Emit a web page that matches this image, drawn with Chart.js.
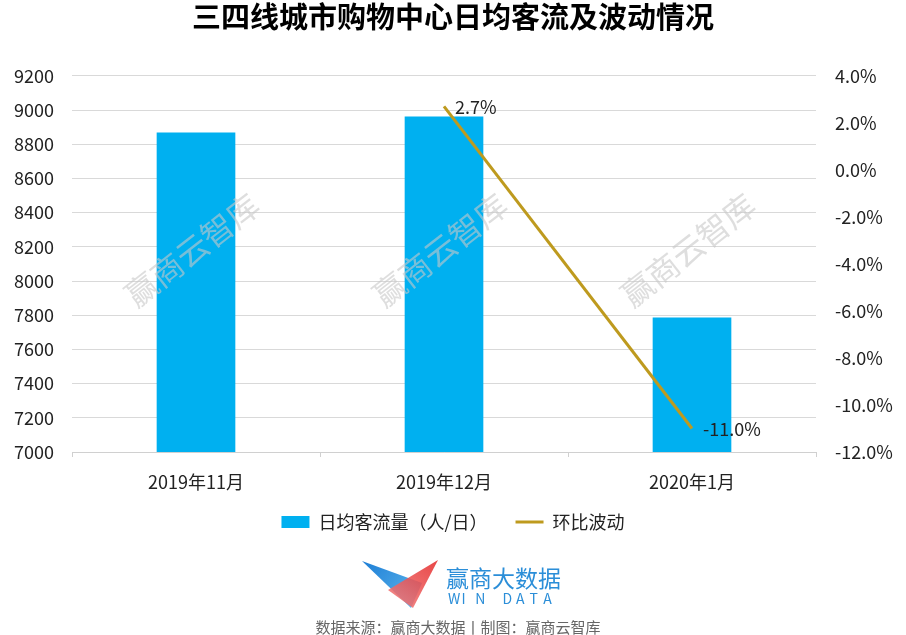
<!DOCTYPE html>
<html>
<head>
<meta charset="utf-8">
<script src="https://cdn.jsdelivr.net/npm/chart.js@4/dist/chart.umd.min.js"></script>
<style>
  html, body { margin: 0; padding: 0; background: #fff; }
  #wrap { width: 906px; height: 635px; }
</style>
</head>
<body>
<div id="wrap"><canvas id="myChart" width="906" height="635"></canvas></div>
<script>
const months = ["2019年11月", "2019年12月", "2020年1月"];
const dailyFlow = [8866, 8960, 7784];
const momChange = [null, 2.7, -11.0];
const flowTicks = { min: 7000, max: 9200, step: 200 };
const changeTicks = { min: -12, max: 4, step: 2 };

const FONT = '"Noto Sans CJK SC", "Noto Sans", sans-serif';

// 水印 + 数据标签
const overlay = {
  id: "overlay",
  afterLayout(chart) {
    // x轴标签区域放大一点，避免被裁剪
    const xs = chart.scales.x;
    xs.bottom = xs.top + 50;
  },
  afterDatasetsDraw(chart) {
    const ctx = chart.ctx;
    const xs = chart.scales.x;

    ctx.save();
    ctx.font = "32px " + FONT;
    ctx.fillStyle = "rgba(200,200,200,0.6)";
    ctx.textAlign = "center";
    ctx.textBaseline = "middle";
    months.forEach((m, i) => {
      const cx = xs.getPixelForValue(i) - 4;
      ctx.save();
      ctx.translate(cx, 250);
      ctx.rotate(-38 * Math.PI / 180);
      ctx.fillText("赢商云智库", 0, 0);
      ctx.restore();
    });
    ctx.restore();

    const meta = chart.getDatasetMeta(1);
    ctx.save();
    ctx.font = "18px " + FONT;
    ctx.fillStyle = "#222";
    ctx.textAlign = "left";
    ctx.textBaseline = "middle";
    meta.data.forEach((pt, i) => {
      if (momChange[i] === null) return;
      ctx.fillText(momChange[i].toFixed(1) + "%", pt.x + 11, pt.y + 1);
    });
    ctx.restore();
  },
  afterDraw(chart) {
    const ctx = chart.ctx;
    ctx.save();
    // logo
    let g = ctx.createLinearGradient(363, 562, 415, 606);
    g.addColorStop(0, "#1f7fd6");
    g.addColorStop(1, "#5bb5ec");
    ctx.fillStyle = g;
    ctx.beginPath();
    ctx.moveTo(362, 561); ctx.lineTo(422, 583); ctx.lineTo(411, 608); ctx.closePath();
    ctx.fill();
    g = ctx.createLinearGradient(437, 561, 400, 607);
    g.addColorStop(0, "#e52e2e");
    g.addColorStop(1, "#f07777");
    ctx.fillStyle = g;
    ctx.globalAlpha = 0.88;
    ctx.beginPath();
    ctx.moveTo(438, 560); ctx.lineTo(388, 590); ctx.lineTo(413, 608); ctx.closePath();
    ctx.fill();
    ctx.globalAlpha = 1;

    ctx.fillStyle = "#2b8ed8";
    ctx.textBaseline = "middle";
    ctx.textAlign = "left";
    ctx.font = "23px " + FONT;
    ctx.fillText("赢商大数据", 446, 578);
    ctx.font = "14px " + FONT;
    const letters = "WIN DATA".split("");
    letters.forEach((c, i) => ctx.fillText(c, 448 + i * 13.6, 599));

    ctx.fillStyle = "#666";
    ctx.font = "15px " + FONT;
    ctx.textAlign = "center";
    ctx.fillText("数据来源：赢商大数据丨制图：赢商云智库", 458, 627);
    ctx.restore();
  }
};

new Chart(document.getElementById("myChart").getContext("2d"), {
  data: {
    labels: months,
    datasets: [
      {
        type: "bar",
        label: "日均客流量（人/日）",
        data: dailyFlow,
        yAxisID: "y",
        backgroundColor: "#00B0F0",
        borderWidth: 0,
        barThickness: 78,
        order: 1,
        pointStyle: "rect",
      },
      {
        type: "line",
        label: "环比波动",
        data: momChange,
        yAxisID: "y1",
        borderColor: "#BE9A1E",
        backgroundColor: "#BE9A1E",
        borderWidth: 3,
        pointRadius: 0,
        tension: 0,
        order: 0,
        pointStyle: "line",
      },
    ],
  },
  options: {
    responsive: false,
    animation: false,
    layout: { padding: { top: 0, bottom: 94, left: 0, right: 0 } },
    plugins: {
      tooltip: { enabled: false },
      title: {
        display: true,
        text: "三四线城市购物中心日均客流及波动情况",
        color: "#000",
        font: { family: FONT, size: 29, weight: "bold" },
        padding: { top: 0, bottom: 41 },
      },
      legend: {
        position: "bottom",
        labels: {
          usePointStyle: true,
          pointStyleWidth: 28,
          boxHeight: 12,
          padding: 28,
          color: "#222",
          font: { family: FONT, size: 18 },
          sort: (a, b) => a.datasetIndex - b.datasetIndex,
        },
      },
    },
    scales: {
      x: {
        offset: true,
        grid: {
          display: true,
          offset: true,
          drawOnChartArea: false,
          color: "#d0d0d0",
          tickLength: 5,
        },
        border: { color: "#d0d0d0" },
        ticks: { color: "#222", font: { family: FONT, size: 18 }, padding: 14 },
        afterFit(s) { s.height = 33; },
      },
      y: {
        position: "left",
        min: flowTicks.min,
        max: flowTicks.max,
        ticks: {
          stepSize: flowTicks.step,
          color: "#222",
          font: { family: FONT, size: 18 },
          padding: 18,
          callback: (v) => String(v),
        },
        grid: { color: "#d9d9d9", drawTicks: false },
        border: { display: false },
        afterFit(s) { s.width = 72; },
      },
      y1: {
        position: "right",
        min: changeTicks.min,
        max: changeTicks.max,
        ticks: {
          stepSize: changeTicks.step,
          color: "#222",
          font: { family: FONT, size: 18 },
          padding: 19,
          callback: (v) => v.toFixed(1) + "%",
        },
        grid: { drawOnChartArea: false, drawTicks: false },
        border: { display: false },
        afterFit(s) { s.width = 90; },
      },
    },
  },
  plugins: [overlay],
});
</script>
</body>
</html>
